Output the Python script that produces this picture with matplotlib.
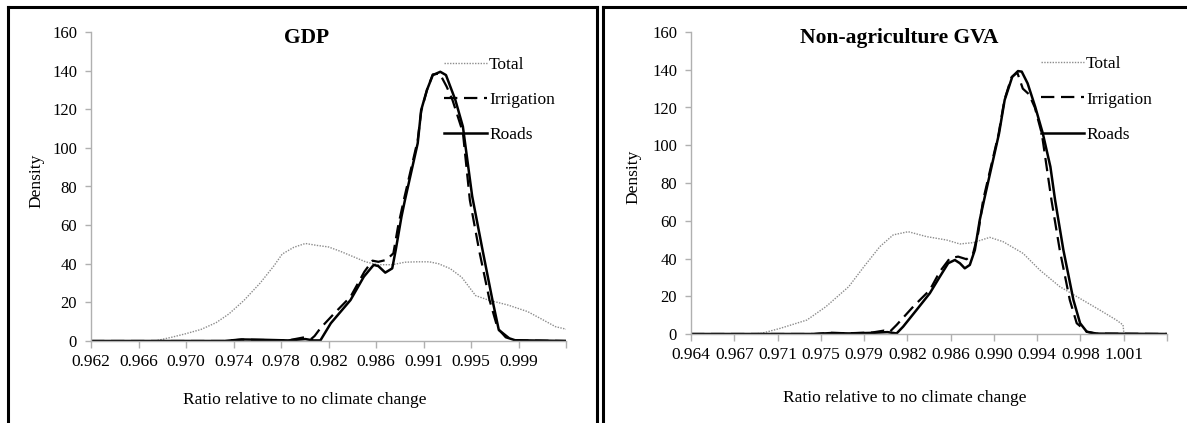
import numpy as np
import matplotlib
matplotlib.use("Agg")
import matplotlib.pyplot as plt
from matplotlib.lines import Line2D

plt.rcParams['font.family'] = ['Liberation Serif', 'DejaVu Serif']

# ---------------- GDP panel ----------------
gdp_ticks = [0.962, 0.966, 0.970, 0.974, 0.978, 0.982, 0.986, 0.991, 0.995, 0.999]
gdp_total_x = [0.962, 0.9675, 0.969, 0.9702, 0.9715, 0.9728, 0.9739, 0.9752, 0.9766, 0.9778,
               0.9785, 0.9795, 0.9805, 0.9815, 0.9825, 0.9835, 0.9845, 0.9857, 0.9861, 0.9868,
               0.9880, 0.9891, 0.9901, 0.9912, 0.9920, 0.9930, 0.9940, 0.9952, 0.9963, 0.9980,
               0.9997, 1.0010, 1.0021, 1.0031]
gdp_total_y = [0, 0, 2, 3.8, 6, 9.5, 14, 21, 30, 39,
               45, 48.5, 50.5, 49.5, 48.7, 46.5, 44, 41, 40.4, 39.5,
               39.5, 40.8, 41, 41, 40, 37.5, 33, 23.5, 21.2, 18.6,
               15.2, 11, 7.4, 6]
gdp_irr_x = [0.962, 0.9735, 0.9750, 0.9770, 0.9790, 0.9804, 0.9810, 0.9813, 0.9818, 0.9830,
             0.9844, 0.9856, 0.9863, 0.9868, 0.9875, 0.9881, 0.9885, 0.9890, 0.9902, 0.9905,
             0.9910, 0.9915, 0.9921, 0.9927, 0.9932, 0.9941, 0.9947, 0.9955, 0.9964, 0.9971,
             0.9978, 0.9986, 1.0031]
gdp_irr_y = [0, 0, 0.7, 0.5, 0.3, 1.9, 1, 2.6, 6.6, 14.3,
             22.9, 35.9, 41.6, 41, 42, 45.4, 59.2, 73, 104, 119,
             130, 138, 138.5, 131.7, 124.8, 108, 73, 47, 21.2, 6.6,
             1.9, 0.3, 0]
gdp_roads_x = [0.962, 0.9735, 0.9750, 0.9770, 0.9790, 0.9805, 0.9812, 0.9818, 0.9827, 0.9844,
               0.98555, 0.9864, 0.9868, 0.9874, 0.9880, 0.9883, 0.9888, 0.9891, 0.9902, 0.9905,
               0.9910, 0.9915, 0.99215, 0.99264, 0.99345, 0.9941, 0.9949, 0.9958, 0.99665, 0.9972,
               0.9981, 0.9986, 1.0031]
gdp_roads_y = [0, 0, 0.8, 0.6, 0.3, 1, 0.3, 0.3, 9.2, 21.2,
               33.3, 39.4, 38.8, 35.4, 37.6, 47, 64.4, 73, 102.4, 119.6,
               130, 137.7, 139.4, 137.7, 124.8, 111, 75, 47, 21.2, 5.7,
               1.4, 0.4, 0]

# ---------------- Non-agriculture GVA panel ----------------
gva_ticks = [0.964, 0.967, 0.971, 0.975, 0.979, 0.982, 0.986, 0.990, 0.994, 0.998, 1.001]
gva_total_x = [0.964, 0.9690, 0.9700, 0.97163, 0.97391, 0.97554, 0.97749, 0.97879, 0.98015, 0.98129,
               0.98257, 0.98414, 0.98585, 0.98699, 0.98812, 0.98955, 0.99069, 0.99240, 0.99382, 0.99553,
               0.99724, 0.99895, 1.00037, 1.00094, 1.0010]
gva_total_y = [0, 0, 0.3, 3, 7.4, 14.5, 25.1, 35.7, 46.3, 52.5,
               54.2, 51.6, 49.8, 47.7, 48.4, 51.2, 48.9, 42.7, 33.9, 25.1,
               18.9, 12.7, 7.4, 4.8, 1.2]
gva_irr_x = [0.964, 0.9745, 0.9760, 0.9775, 0.9795, 0.9805, 0.9810, 0.98158, 0.9830, 0.98442,
             0.98528, 0.98613, 0.98684, 0.98756, 0.98812, 0.98855, 0.98898, 0.9903, 0.9908, 0.9914,
             0.9919, 0.99237, 0.9929, 0.9934, 0.9940, 0.99482, 0.99553, 0.99639, 0.99698, 0.99784,
             0.9986, 1.0047]
gva_irr_y = [0, 0, 0.6, 0.4, 0.8, 1.8, 1.2, 4.8, 14.5, 23.3,
             33.1, 40.1, 41, 39.6, 42.7, 53.3, 71, 106, 124, 136,
             138.5, 130, 127, 120, 106, 71, 44.5, 18, 5.7, 1.2,
             0.2, 0]
gva_roads_x = [0.964, 0.9745, 0.9760, 0.9775, 0.9795, 0.9808, 0.98158, 0.98214, 0.98328, 0.98442,
               0.98528, 0.98599, 0.98656, 0.98699, 0.98741, 0.98784, 0.98827, 0.98869, 0.98906, 0.99034,
               0.99082, 0.99147, 0.99196, 0.99228, 0.99278, 0.99343, 0.99408, 0.99473, 0.99513, 0.99584,
               0.9967, 0.99727, 0.99784, 0.99869, 1.0047]
gva_roads_y = [0, 0, 0.5, 0.3, 0.6, 1, 0.3, 3.9, 12.7, 21.6,
               30.4, 37.5, 39.2, 37.5, 34.8, 36.6, 44.5, 60.4, 71, 106.3,
               124, 136.3, 139.3, 139, 132.8, 120.4, 106.3, 88.6, 71, 44.5,
               18, 5.7, 1.2, 0.2, 0]

W, H = 1187, 423
fig = plt.figure(figsize=(W / 100, H / 100), dpi=100)


def fx(px):
    return px / W


def fy(py):
    return 1 - py / H


def style_axes(ax, ticks, step, n_int, title, tx, lx, ly):
    ax.set_ylim(0, 160)
    ax.set_xlim(ticks[0], ticks[0] + step * n_int)
    ax.set_yticks(np.arange(0, 161, 20))
    pos = [ticks[0] + step * i for i in range(n_int + 1)]
    ax.set_xticks(pos)
    ax.set_xticklabels([f"{t:.3f}" for t in ticks] + [""] * (n_int + 1 - len(ticks)))
    for s in ['top', 'right']:
        ax.spines[s].set_visible(False)
    for s in ['left', 'bottom']:
        ax.spines[s].set_color('#b0b0b0')
        ax.spines[s].set_linewidth(1.0)
    ax.tick_params(axis='both', colors='#b0b0b0', labelcolor='black', width=1.0)
    ax.tick_params(axis='y', length=4, pad=6, labelsize=12)
    ax.tick_params(axis='x', length=5, pad=4, labelsize=12.5)
    ax.text(tx, 0.98, title, transform=ax.transAxes, ha='center', va='center',
            fontsize=15.5, fontweight='bold')
    ax.set_ylabel('Density', fontsize=12.5)
    ax.yaxis.set_label_coords(lx, 0.52)
    ax.set_xlabel('Ratio relative to no climate change', fontsize=12.5)
    ax.xaxis.set_label_coords(0.45, ly)


def draw(ax, tx_, ty_, ix_, iy_, rx_, ry_, leg_x, leg_y):
    ax.plot(tx_, ty_, color='#8c8c8c', lw=1.0, ls=(0, (1, 1)), label='Total')
    ax.plot(ix_, iy_, color='black', lw=1.6, ls=(0, (6, 3)), label='Irrigation')
    ax.plot(rx_, ry_, color='black', lw=1.8, ls='-', label='Roads')
    ax.legend(loc='upper left', bbox_to_anchor=(leg_x, leg_y), frameon=False, fontsize=12.5,
              handlelength=2.5, handletextpad=0.1, labelspacing=1.1, borderpad=0,
              borderaxespad=0)


ax1 = fig.add_axes([fx(91), fy(341), fx(566 - 91), (341 - 32) / H])
draw(ax1, gdp_total_x, gdp_total_y, gdp_irr_x, gdp_irr_y, gdp_roads_x, gdp_roads_y, 0.743, 0.92)
style_axes(ax1, gdp_ticks, 0.0041, 10, 'GDP', 0.453, -0.098, -0.165)

ax2 = fig.add_axes([fx(691), fy(334), fx(1167 - 691), (334 - 32) / H])
draw(ax2, gva_total_x, gva_total_y, gva_irr_x, gva_irr_y, gva_roads_x, gva_roads_y, 0.735, 0.92)
style_axes(ax2, gva_ticks, 0.0037, 11, 'Non-agriculture GVA', 0.437, -0.105, -0.185)

# panel frames
lw = 2.2
for xs, ys in [
    ([7.5, 7.5], [423, 7.5]), ([7.5, 597], [7.5, 7.5]), ([597, 597], [7.5, 423]),
    ([603, 603], [423, 7.5]), ([603, 1187], [7.5, 7.5]),
]:
    fig.add_artist(Line2D([fx(x) for x in xs], [fy(y) for y in ys], color='black', lw=lw,
                          transform=fig.transFigure))

fig.savefig('out.png', dpi=100)
